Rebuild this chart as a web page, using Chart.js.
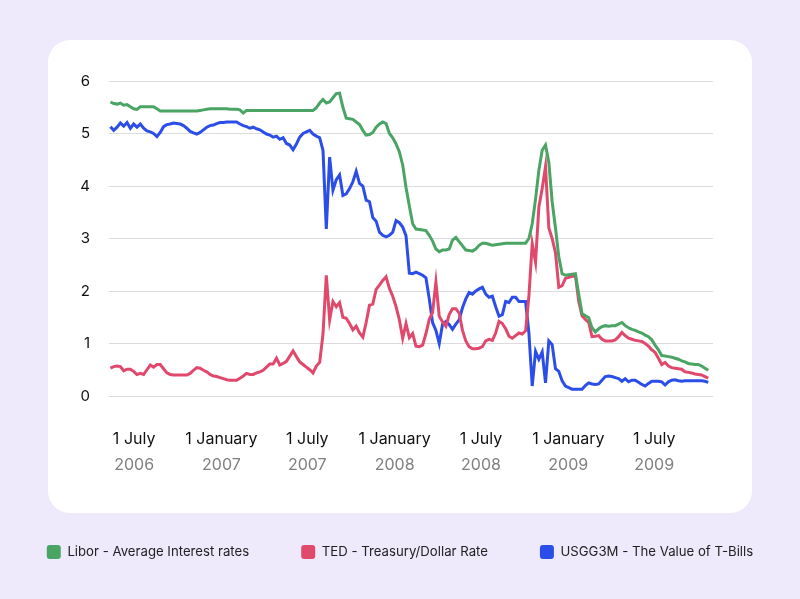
<!DOCTYPE html>
<html>
<head>
<meta charset="utf-8">
<title>Libor, TED and T-Bills 2006-2009</title>
<script src="https://cdn.jsdelivr.net/npm/chart.js@4.4.1/dist/chart.umd.min.js"></script>
<style>
    html, body { margin: 0; padding: 0; }
    body {
        width: 800px;
        height: 599px;
        background: #eeeafc;
        position: relative;
        overflow: hidden;
        font-family: Inter, sans-serif;
    }
    .card {
        position: absolute;
        left: 48px;
        top: 40px;
        width: 704px;
        height: 473px;
        background: #ffffff;
        border-radius: 22px;
    }
    #rates { position: absolute; left: 0; top: 0; }
</style>
</head>
<body>
<div class="card"></div>
<canvas id="rates" width="800" height="599"></canvas>
<script>
// weekly observations, first one on this date
const firstWeek = '2006-05-12';

// x axis ticks (two rows: day/month and year)
const tickDates = ['2006-07-01', '2007-01-01', '2007-07-01', '2008-01-01', '2008-07-01', '2009-01-01', '2009-07-01'];
const tickDayLabels = ['1 July', '1 January', '1 July', '1 January', '1 July', '1 January', '1 July'];
const tickYearLabels = ['2006', '2007', '2007', '2008', '2008', '2009', '2009'];

const seriesNames = ['Libor - Average Interest rates', 'TED - Treasury/Dollar Rate', 'USGG3M - The Value of T-Bills'];

// Libor (weekly)
const libor = [
    5.60, 5.57, 5.56, 5.58, 5.54, 5.55, 5.51, 5.47, 5.46, 5.51,
    5.51, 5.51, 5.51, 5.51, 5.47, 5.43, 5.43, 5.43, 5.43, 5.43,
    5.43, 5.43, 5.43, 5.43, 5.43, 5.43, 5.43, 5.44, 5.45, 5.46,
    5.47, 5.47, 5.47, 5.47, 5.47, 5.47, 5.46, 5.46, 5.46, 5.45,
    5.39, 5.44, 5.44, 5.44, 5.44, 5.44, 5.44, 5.44, 5.44, 5.44,
    5.44, 5.44, 5.44, 5.44, 5.44, 5.44, 5.44, 5.44, 5.44, 5.44,
    5.44, 5.44, 5.49, 5.58, 5.65, 5.58, 5.60, 5.68, 5.76, 5.77,
    5.50, 5.29, 5.28, 5.27, 5.22, 5.17, 5.06, 4.97, 4.98, 5.02,
    5.12, 5.18, 5.22, 5.19, 5.00, 4.92, 4.80, 4.65, 4.40, 3.97,
    3.62, 3.28, 3.18, 3.17, 3.16, 3.15, 3.06, 2.95, 2.80, 2.75,
    2.78, 2.78, 2.80, 2.97, 3.02, 2.94, 2.86, 2.78, 2.77, 2.76,
    2.80, 2.87, 2.91, 2.91, 2.89, 2.87, 2.88, 2.89, 2.90, 2.91,
    2.91, 2.91, 2.91, 2.91, 2.91, 2.91, 3.00, 3.28, 3.75, 4.30,
    4.68, 4.78, 4.45, 3.70, 3.20, 2.65, 2.33, 2.30, 2.31, 2.32,
    2.33, 1.94, 1.57, 1.53, 1.49, 1.30, 1.22, 1.28, 1.32, 1.34,
    1.33, 1.34, 1.34, 1.37, 1.40, 1.34, 1.30, 1.27, 1.25, 1.22,
    1.20, 1.16, 1.13, 1.07, 0.97, 0.88, 0.77, 0.76, 0.75, 0.74,
    0.72, 0.70, 0.67, 0.65, 0.62, 0.61, 0.60, 0.60, 0.57, 0.53,
    0.49
];

// TED spread (weekly)
const ted = [
    0.53, 0.56, 0.57, 0.56, 0.48, 0.51, 0.51, 0.47, 0.41, 0.43,
    0.41, 0.50, 0.59, 0.55, 0.60, 0.60, 0.52, 0.44, 0.41, 0.40,
    0.40, 0.40, 0.40, 0.40, 0.43, 0.49, 0.54, 0.53, 0.49, 0.46,
    0.41, 0.38, 0.37, 0.35, 0.33, 0.31, 0.30, 0.30, 0.30, 0.34,
    0.38, 0.43, 0.41, 0.41, 0.44, 0.46, 0.49, 0.55, 0.61, 0.61,
    0.72, 0.59, 0.62, 0.66, 0.76, 0.86, 0.75, 0.65, 0.60, 0.55,
    0.50, 0.44, 0.57, 0.64, 1.18, 2.30, 1.45, 1.80, 1.70, 1.78,
    1.50, 1.48, 1.38, 1.26, 1.33, 1.20, 1.12, 1.40, 1.73, 1.75,
    2.03, 2.11, 2.20, 2.27, 2.05, 1.90, 1.70, 1.45, 1.10, 1.38,
    1.11, 1.19, 0.95, 0.94, 0.97, 1.19, 1.46, 1.59, 2.17, 1.52,
    1.41, 1.33, 1.55, 1.66, 1.66, 1.58, 1.25, 1.05, 0.94, 0.90,
    0.90, 0.91, 0.94, 1.05, 1.08, 1.06, 1.20, 1.42, 1.38, 1.28,
    1.14, 1.10, 1.15, 1.20, 1.18, 1.24, 1.90, 2.90, 2.55, 3.60,
    3.95, 4.37, 3.20, 3.00, 2.73, 2.07, 2.10, 2.24, 2.26, 2.28,
    2.30, 1.80, 1.53, 1.46, 1.40, 1.13, 1.14, 1.15, 1.08, 1.05,
    1.05, 1.05, 1.07, 1.13, 1.21, 1.15, 1.10, 1.08, 1.06, 1.05,
    1.04, 1.00, 0.95, 0.88, 0.83, 0.72, 0.60, 0.64, 0.57, 0.54,
    0.53, 0.52, 0.51, 0.46, 0.45, 0.44, 0.42, 0.41, 0.40, 0.37,
    0.34
];

// 3 month T-bill yield (weekly)
const usgg3m = [
    5.13, 5.06, 5.12, 5.20, 5.14, 5.21, 5.10, 5.18, 5.12, 5.18,
    5.10, 5.05, 5.03, 5.00, 4.94, 5.02, 5.13, 5.17, 5.18, 5.20,
    5.19, 5.18, 5.15, 5.10, 5.04, 5.01, 4.99, 5.02, 5.07, 5.12,
    5.15, 5.16, 5.19, 5.21, 5.21, 5.22, 5.22, 5.22, 5.22, 5.18,
    5.15, 5.13, 5.10, 5.12, 5.09, 5.07, 5.03, 4.99, 4.97, 4.93,
    4.95, 4.89, 4.92, 4.81, 4.78, 4.69, 4.80, 4.93, 5.00, 5.03,
    5.06, 4.99, 4.95, 4.92, 4.68, 3.18, 4.55, 3.92, 4.12, 4.21,
    3.82, 3.85, 3.95, 4.08, 4.28, 4.05, 4.00, 3.73, 3.70, 3.40,
    3.33, 3.12, 3.06, 3.03, 3.06, 3.12, 3.34, 3.30, 3.22, 3.05,
    2.34, 2.33, 2.36, 2.33, 2.30, 2.25, 1.85, 1.40, 1.25, 1.00,
    1.37, 1.42, 1.36, 1.27, 1.37, 1.45, 1.68, 1.85, 1.97, 1.94,
    2.00, 2.04, 2.07, 1.94, 1.88, 1.90, 1.70, 1.52, 1.55, 1.80,
    1.78, 1.88, 1.88, 1.80, 1.80, 1.80, 1.20, 0.19, 0.85, 0.70,
    0.84, 0.25, 1.05, 0.98, 0.52, 0.47, 0.29, 0.19, 0.16, 0.13,
    0.13, 0.13, 0.13, 0.20, 0.25, 0.23, 0.22, 0.23, 0.30, 0.37,
    0.38, 0.37, 0.35, 0.33, 0.28, 0.33, 0.27, 0.30, 0.30, 0.26,
    0.22, 0.19, 0.24, 0.28, 0.28, 0.28, 0.27, 0.21, 0.27, 0.30,
    0.31, 0.29, 0.28, 0.29, 0.29, 0.29, 0.29, 0.29, 0.29, 0.28,
    0.26
];

const GREEN = '#4aa564';
const RED = '#e0496c';
const BLUE = '#2c4ee8';

// days since 1 Jan 2006
function dayOf(iso) {
    const [y, m, d] = iso.split('-').map(Number);
    return (Date.UTC(y, m - 1, d) - Date.UTC(2006, 0, 1)) / 86400000;
}

const startDay = dayOf(firstWeek);
const toPoints = (values) => values.map((v, i) => ({ x: startDay + i * 7, y: v }));

const X_MIN = 128;
const X_MAX = 1401;
const xTickFont = { family: 'Inter', size: 16 };
const yTickFont = { family: 'Inter', size: 15 };

function dateTicks(scale) {
    scale.ticks = tickDates.map(d => ({ value: dayOf(d) }));
}

const ctx = document.getElementById('rates');

new Chart(ctx, {
    type: 'line',
    data: {
        datasets: [
            { label: seriesNames[0], data: toPoints(libor), borderColor: GREEN, backgroundColor: GREEN },
            { label: seriesNames[1], data: toPoints(ted), borderColor: RED, backgroundColor: RED },
            { label: seriesNames[2], data: toPoints(usgg3m), borderColor: BLUE, backgroundColor: BLUE }
        ]
    },
    options: {
        responsive: false,
        animation: false,
        // negative side padding gives the legend a wide enough row
        layout: { padding: { left: -10, right: -10, top: 81, bottom: 30 } },
        elements: {
            point: { radius: 0 },
            line: { borderWidth: 3, tension: 0 }
        },
        plugins: {
            tooltip: { enabled: false },
            legend: {
                position: 'bottom',
                labels: {
                    color: '#222222',
                    font: { family: 'Inter', size: 13.2 },
                    boxWidth: 14,
                    boxHeight: 14,
                    padding: 52,
                    useBorderRadius: true,
                    borderRadius: 3,
                    generateLabels: (chart) => {
                        const items = Chart.defaults.plugins.legend.labels.generateLabels(chart);
                        items.forEach(it => { it.lineWidth = 0; });
                        return items;
                    }
                }
            }
        },
        scales: {
            x: {
                type: 'linear',
                position: 'bottom',
                min: X_MIN,
                max: X_MAX,
                grid: { display: false, drawTicks: false },
                border: { display: false },
                afterBuildTicks: dateTicks,
                afterFit: (s) => { s.height = 56; },
                ticks: {
                    autoSkip: false,
                    maxRotation: 0,
                    padding: 34,
                    color: '#111111',
                    font: xTickFont,
                    callback: (value, index) => tickDayLabels[index]
                }
            },
            x2: {
                type: 'linear',
                position: 'bottom',
                min: X_MIN,
                max: X_MAX,
                grid: { display: false, drawTicks: false },
                border: { display: false },
                afterBuildTicks: dateTicks,
                afterFit: (s) => { s.height = 41; },
                ticks: {
                    autoSkip: false,
                    maxRotation: 0,
                    padding: 4,
                    color: '#808080',
                    font: xTickFont,
                    callback: (value, index) => tickYearLabels[index]
                }
            },
            y: {
                type: 'linear',
                position: 'left',
                min: 0,
                max: 6,
                grid: { color: '#dcdcdc', lineWidth: 1, drawTicks: false },
                border: { display: false },
                afterFit: (s) => { s.width = 119; },
                ticks: {
                    stepSize: 1,
                    padding: 19,
                    color: '#111111',
                    font: yTickFont
                }
            },
            yRight: {
                type: 'linear',
                position: 'right',
                grid: { display: false, drawTicks: false },
                border: { display: false },
                ticks: { display: false },
                afterFit: (s) => { s.width = 97; }
            }
        }
    }
});
</script>
</body>
</html>
